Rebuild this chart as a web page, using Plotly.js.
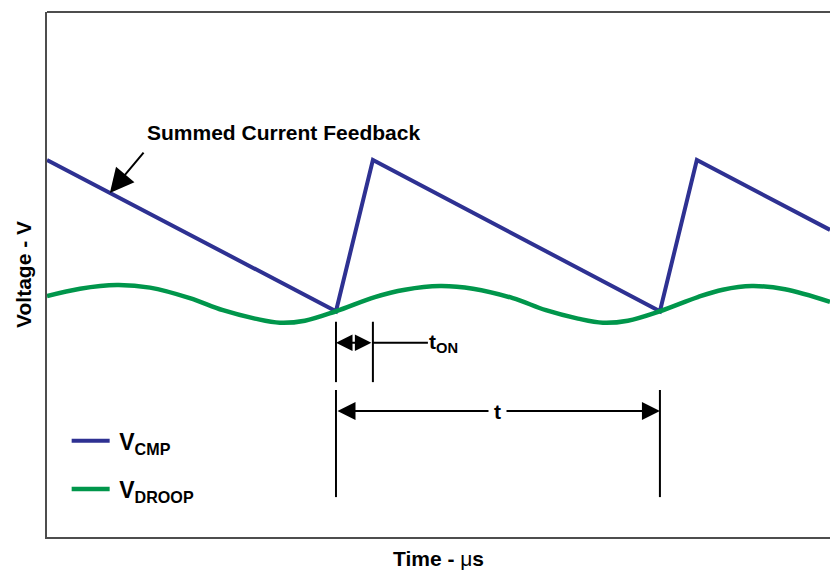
<!DOCTYPE html>
<html><head><meta charset="utf-8">
<script src="https://cdn.plot.ly/plotly-3.0.1.min.js"></script>
<style>html,body{margin:0;padding:0;background:#fff}#chart{width:830px;height:571px}</style>
</head><body><div id="chart"></div>
<script>
const vcmpTime = [0, 8.92, 10.06, 18.92, 20.06, 24.17];
const vcmpVolt = [7.18, 4.30, 7.18, 4.30, 7.18, 5.85];
const droopTime = [0.00, 1.02, 2.16, 3.18, 4.41, 5.43, 6.42, 7.19, 7.96, 8.92, 10.12, 11.05, 12.13, 13.15, 14.38, 15.40, 16.39, 17.16, 17.93, 18.92, 20.09, 20.86, 21.76, 22.78, 24.17];
const droopVolt = [4.59, 4.73, 4.80, 4.75, 4.55, 4.32, 4.16, 4.08, 4.12, 4.30, 4.57, 4.71, 4.78, 4.73, 4.55, 4.32, 4.16, 4.08, 4.12, 4.30, 4.57, 4.71, 4.78, 4.72, 4.48];
const seriesNames = ['\u2009V<sub>CMP</sub>', '\u2009V<sub>DROOP</sub>'];
const xTitle = 'Time - <span style="font-weight:normal">μ</span>s';
const yTitle = 'Voltage - V';
const calloutText = 'Summed Current Feedback';
const onTimeLabel = 't<sub>ON</sub>';
const periodLabel = 't';

function vcmpAt(t) {
  for (let i = 0; i < vcmpTime.length - 1; i++) {
    if (t >= vcmpTime[i] && t <= vcmpTime[i + 1]) {
      const f = (t - vcmpTime[i]) / (vcmpTime[i + 1] - vcmpTime[i]);
      return vcmpVolt[i] + f * (vcmpVolt[i + 1] - vcmpVolt[i]);
    }
  }
  return vcmpVolt[vcmpVolt.length - 1];
}

const FONT = 'Liberation Sans, Arial, Helvetica, sans-serif';
const BLUE = '#2e3192';
const GREEN = '#00964b';
const FRAME = '#4d4d4d';

const valley1 = vcmpTime[1], peak1 = vcmpTime[2], valley2 = vcmpTime[3];
const tonY = 3.70, periodY = 2.40;
const calloutTipT = 1.94;

const traces = [
  {x: vcmpTime, y: vcmpVolt, mode: 'lines', name: seriesNames[0],
   line: {color: BLUE, width: 4}, legend: 'legend'},
  {x: droopTime, y: droopVolt, mode: 'lines', name: seriesNames[1],
   line: {color: GREEN, width: 4.5, shape: 'spline', smoothing: 1}, legend: 'legend2'}
];

const legendFont = {family: FONT, size: 23, color: '#000', weight: 'bold'};

const layout = {
  width: 830, height: 571,
  margin: {l: 47, r: 0, t: 12, b: 34},
  paper_bgcolor: '#fff', plot_bgcolor: '#fff',
  font: {family: FONT, size: 21, color: '#000', weight: 'bold'},
  showlegend: true,
  legend: {x: 0.0251, y: 0.183, xanchor: 'left', yanchor: 'middle', bgcolor: 'rgba(0,0,0,0)', font: legendFont, itemwidth: 38},
  legend2: {x: 0.0251, y: 0.0914, xanchor: 'left', yanchor: 'middle', bgcolor: 'rgba(0,0,0,0)', font: legendFont, itemwidth: 38},
  xaxis: {range: [0, 24.17], showgrid: false, zeroline: false, showticklabels: false, ticks: '',
          showline: true, linecolor: FRAME, linewidth: 2, fixedrange: true,
          title: {text: xTitle, font: {family: FONT, size: 21, weight: 'bold'}, standoff: 13}},
  yaxis: {range: [0, 10], showgrid: false, zeroline: false, showticklabels: false, ticks: '',
          showline: true, linecolor: FRAME, linewidth: 2, fixedrange: true,
          title: {text: yTitle, font: {family: FONT, size: 21, weight: 'bold'}, standoff: 8}},
  shapes: [
    {type: 'line', xref: 'paper', yref: 'paper', x0: 0, x1: 1, y0: 1, y1: 1, line: {color: FRAME, width: 2}},
    {type: 'line', xref: 'x', yref: 'y', x0: valley1, x1: valley1, y0: 4.10, y1: 2.95, line: {color: '#000', width: 2}},
    {type: 'line', xref: 'x', yref: 'y', x0: peak1, x1: peak1, y0: 4.10, y1: 2.95, line: {color: '#000', width: 2}},
    {type: 'line', xref: 'x', yref: 'y', x0: valley1, x1: valley1, y0: 2.80, y1: 0.76, line: {color: '#000', width: 2}},
    {type: 'line', xref: 'x', yref: 'y', x0: valley2, x1: valley2, y0: 2.80, y1: 0.76, line: {color: '#000', width: 2}}
  ],
  annotations: [
    {x: 7.30, y: 7.70, xref: 'x', yref: 'y', text: calloutText, showarrow: false,
     font: {family: FONT, size: 21, color: '#000', weight: 'bold'}},
    {x: calloutTipT, y: vcmpAt(calloutTipT), xref: 'x', yref: 'y', axref: 'x', ayref: 'y',
     ax: 3.02, ay: 7.35, text: '', showarrow: true, arrowhead: 2, arrowsize: 2.4, arrowwidth: 2, arrowcolor: '#000', standoff: 0},
    {x: valley1, y: tonY, xref: 'x', yref: 'y', axref: 'x', ayref: 'y', ax: peak1, ay: tonY,
     text: '', showarrow: true, arrowside: 'end+start', arrowhead: 2, startarrowhead: 2,
     arrowsize: 1.65, startarrowsize: 1.65, arrowwidth: 2, arrowcolor: '#000', standoff: 0, startstandoff: 0},
    {x: peak1, y: tonY, xref: 'x', yref: 'y', ax: 71, ay: 0, text: onTimeLabel, showarrow: true,
     arrowhead: 0, arrowwidth: 2, arrowcolor: '#000', standoff: 0,
     font: {family: FONT, size: 21, color: '#000', weight: 'bold'}},
    {x: valley2, y: periodY, xref: 'x', yref: 'y', axref: 'x', ayref: 'y', ax: valley1, ay: periodY,
     text: '', showarrow: true, arrowside: 'end+start', arrowhead: 2, startarrowhead: 2,
     arrowsize: 1.8, startarrowsize: 1.8, arrowwidth: 2, arrowcolor: '#000', standoff: 0, startstandoff: 0},
    {x: (valley1 + valley2) / 2, y: periodY, xref: 'x', yref: 'y', text: periodLabel, showarrow: false,
     bgcolor: '#fff', borderpad: 5, font: {family: FONT, size: 21, color: '#000', weight: 'bold'}}
  ]
};

Plotly.newPlot('chart', traces, layout, {displayModeBar: false, staticPlot: true});
</script>
</body></html>
